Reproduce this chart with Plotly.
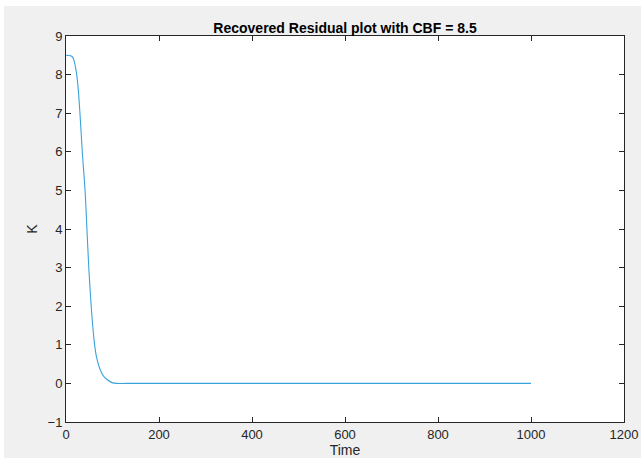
import plotly.graph_objects as go

# Recovered residual K over time
time = [0, 10, 15, 20, 25, 30, 35, 41, 45, 49, 53, 57, 61, 65, 70, 74, 80, 88, 99, 110, 130, 1000]
k_vals = [8.5, 8.49, 8.44, 8.22, 7.8, 7.0, 6.0, 5.0, 4.0, 3.0, 2.2, 1.55, 1.05, 0.72, 0.48, 0.34, 0.2, 0.1, 0.02, 0.0, 0.0, 0.0]

title_text = "Recovered Residual plot with CBF = 8.5"
x_ticks = [0, 200, 400, 600, 800, 1000, 1200]
y_ticks = [-1, 0, 1, 2, 3, 4, 5, 6, 7, 8, 9]

W, H = 641, 458
L, R, T, B = 66, 17, 36, 36
pw, ph = W - L - R, H - T - B

font_family = "Liberation Sans, Arial, Helvetica, sans-serif"
axis_color = "#262626"

fig = go.Figure()
fig.add_trace(go.Scatter(
    x=time, y=k_vals, mode="lines",
    line=dict(color="#3aa3dc", width=1.1, shape="spline", smoothing=0.8),
    showlegend=False, hoverinfo="skip",
))

def px_to_paper_x(px):
    return (px - L) / pw

def px_to_paper_y(py):
    return (H - B - py) / ph

shapes = [
    # gray figure background with a thin white border at top/left
    dict(type="rect", xref="paper", yref="paper", layer="below",
         x0=px_to_paper_x(4), x1=px_to_paper_x(W),
         y0=px_to_paper_y(H), y1=px_to_paper_y(6),
         fillcolor="#f0f0f0", line=dict(width=0)),
    # white axes area
    dict(type="rect", xref="paper", yref="paper", layer="below",
         x0=0, x1=1, y0=0, y1=1,
         fillcolor="white", line=dict(width=0)),
]

axis_common = dict(
    showgrid=False, zeroline=False, showline=True, linecolor=axis_color,
    linewidth=1, mirror="ticks", ticks="inside", ticklen=5,
    tickcolor=axis_color, tickwidth=1, automargin=False,
    tickfont=dict(family=font_family, size=13, color=axis_color),
)

fig.update_layout(
    width=W, height=H,
    margin=dict(l=L, r=R, t=T, b=B, pad=0, autoexpand=False),
    paper_bgcolor="white", plot_bgcolor="white",
    shapes=shapes,
    title=dict(text="<b>" + title_text + "</b>", x=0.5, xref="paper",
               y=1 - 28 / H, yref="container", yanchor="middle", xanchor="center",
               automargin=False,
               font=dict(family=font_family, size=14, color="black")),
    xaxis=dict(range=[0, 1200], tickvals=x_ticks, **axis_common,
               title=dict(text="Time", standoff=2,
                          font=dict(family=font_family, size=14, color=axis_color))),
    yaxis=dict(range=[-1, 9], tickvals=y_ticks, **axis_common,
               title=dict(text="K", standoff=6,
                          font=dict(family=font_family, size=14, color=axis_color))),
)

fig.write_html("out.html")
